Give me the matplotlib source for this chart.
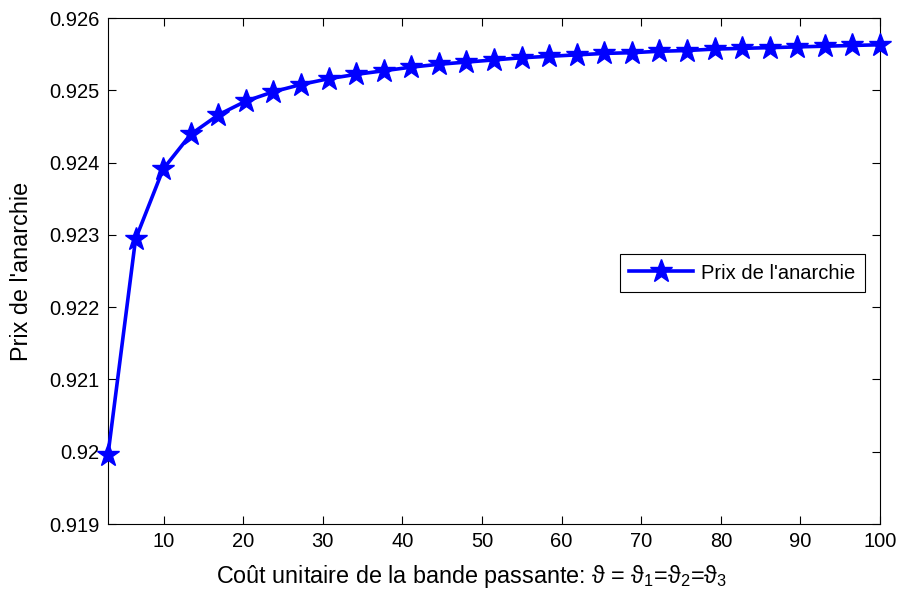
import matplotlib.pyplot as plt

plt.rcParams['font.family'] = ['Liberation Sans', 'DejaVu Sans']
plt.rcParams['mathtext.fontset'] = 'custom'
plt.rcParams['mathtext.rm'] = 'Liberation Sans'
plt.rcParams['mathtext.default'] = 'regular'

# unit bandwidth cost
cost = [3.0, 6.46, 9.93, 13.39, 16.86, 20.32, 23.79, 27.25, 30.71, 34.18,
        37.64, 41.11, 44.57, 48.04, 51.5, 54.96, 58.43, 61.89, 65.36, 68.82,
        72.29, 75.75, 79.21, 82.68, 86.14, 89.61, 93.07, 96.54, 100.0]

# price of anarchy
poa = [0.91996, 0.92294, 0.92391, 0.92439, 0.92466, 0.92485, 0.92498, 0.92508,
       0.92516, 0.92522, 0.92527, 0.92532, 0.92536, 0.92539, 0.92542, 0.92545,
       0.92547, 0.92549, 0.92551, 0.92552, 0.92554, 0.92555, 0.92557, 0.92558,
       0.92559, 0.92560, 0.92561, 0.92562, 0.92563]

fig = plt.figure(figsize=(9.04, 5.92), dpi=100)
ax = fig.add_axes([108/904, 1 - 524/592, 772/904, 506/592])

ax.plot(cost, poa, color='blue', linewidth=2.6, marker='*', markersize=17,
        label="Prix de l'anarchie", clip_on=False, zorder=3)

ax.set_xlim(3, 100)
ax.set_ylim(0.919, 0.926)
ax.set_xticks([10, 20, 30, 40, 50, 60, 70, 80, 90, 100])
ax.set_yticks([0.919, 0.920, 0.921, 0.922, 0.923, 0.924, 0.925, 0.926])
ax.set_yticklabels(['0.919', '0.92', '0.921', '0.922', '0.923', '0.924', '0.925', '0.926'])
ax.tick_params(direction='in', top=True, right=True, length=6, labelsize=14.5, pad=6)

ax.set_xlabel(r'Coût unitaire de la bande passante: $\vartheta$ = $\vartheta_1$=$\vartheta_2$=$\vartheta_3$',
              fontsize=16.8)
ax.xaxis.set_label_coords(0.4715, -0.078)
ax.set_ylabel("Prix de l'anarchie", fontsize=16.8, labelpad=12)

leg = ax.legend(loc='center right', bbox_to_anchor=(0.993, 0.496), fontsize=14.5,
                fancybox=False, edgecolor='black', framealpha=1, handlelength=3.2,
                borderpad=0.45, handletextpad=0.4)
leg.get_frame().set_linewidth(0.8)

plt.savefig('out.png')
